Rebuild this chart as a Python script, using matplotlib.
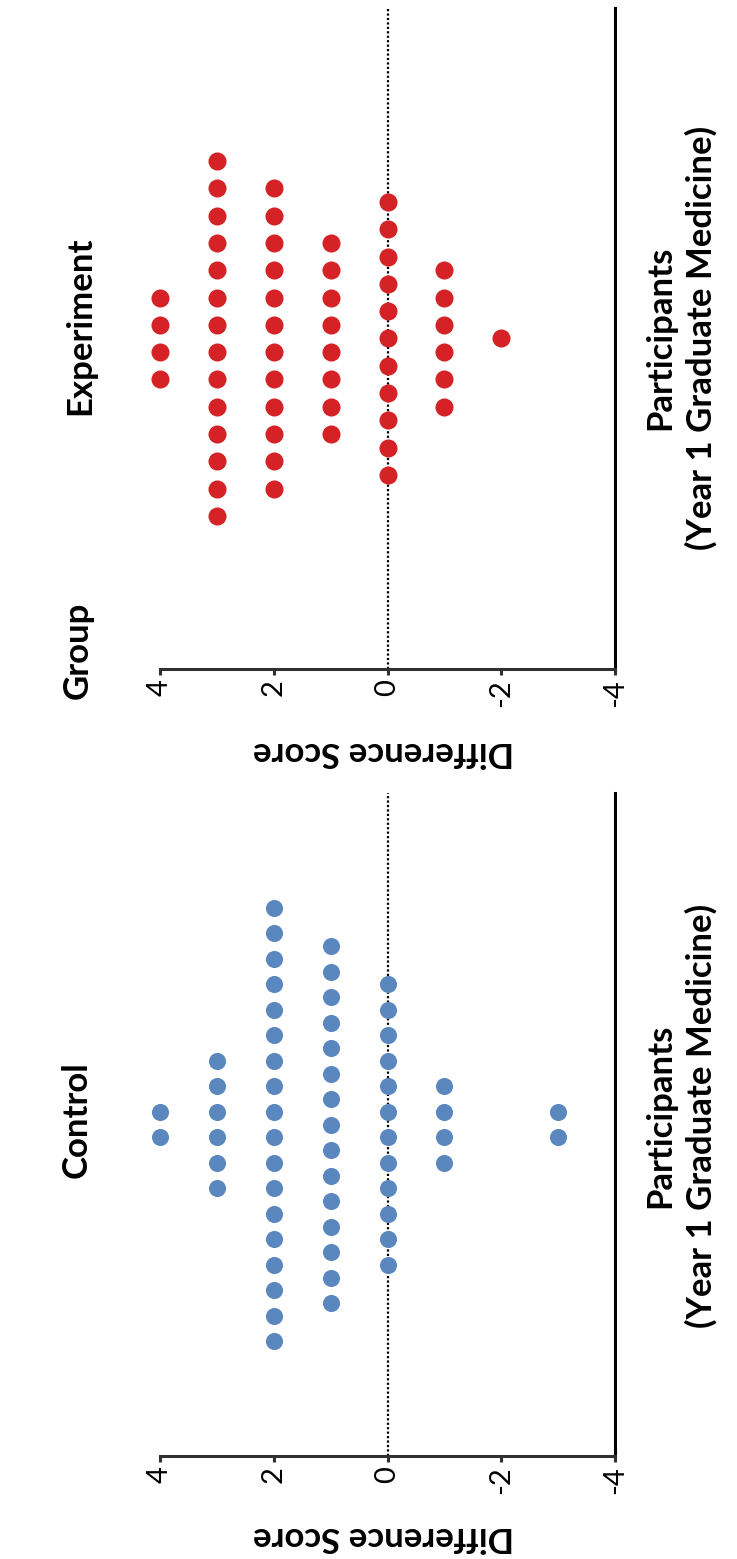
import numpy as np
import matplotlib
matplotlib.use("Agg")
import matplotlib.pyplot as plt

plt.rcParams['font.family'] = ['Lato', 'DejaVu Sans']

# Difference scores and how many participants got each one
scores = [4, 3, 2, 1, 0, -1, -2, -3]
control_counts = [2, 6, 18, 15, 12, 4, 0, 2]
experiment_counts = [4, 14, 12, 8, 11, 6, 1, 0]

group_names = ["Control", "Experiment"]
tick_values = [4, 2, 0, -2, -4]
value_label = "Difference Score"
participants_label = "Participants\n(Year 1 Graduate Medicine)"

blue = "#5b87bf"
red = "#d42226"


def swarm(counts):
    """ Expand counts to (score, offset) pairs, centred column per score """
    xs, ys = [], []
    for s, n in zip(scores, counts):
        for i in range(n):
            xs.append(s)
            ys.append(i - (n - 1) / 2.0)
    return np.array(xs), np.array(ys)


W, H = 737, 1559
fig = plt.figure(figsize=(W / 100, H / 100), dpi=100)


def px(x, y):
    return x / W, 1 - y / H


def panel(top_px, bottom_px, counts, color, half, ms):
    left, bottom = px(160, bottom_px)
    ax = fig.add_axes([left, bottom, 455 / W, (bottom_px - top_px) / H])
    xs, ys = swarm(counts)
    ax.axvline(0, color="black", ls=(0, (1, 1)), lw=1.6, zorder=1)
    ax.plot(xs, ys, "o", color=color, ms=ms, mec="none", zorder=3,
            clip_on=False)
    ax.set_xlim(4, -4)
    ax.set_ylim(-half, half)
    ax.set_xticks(tick_values)
    ax.set_xticklabels([str(v) for v in tick_values], rotation=90,
                       fontsize=21)
    ax.set_yticks([])
    for s in ("top", "left"):
        ax.spines[s].set_visible(False)
    ax.spines["bottom"].set_linewidth(2.2)
    ax.spines["bottom"].set_color("#303030")
    ax.spines["right"].set_linewidth(2.2)
    ax.spines["right"].set_color("black")
    ax.tick_params(axis="x", direction="out", length=4.5, width=2.2,
                   color="#303030", pad=3)
    return ax


# Experiment on top, Control below (figure is turned on its side)
panel(8, 669, experiment_counts, red, 12.1, 13)
panel(793, 1456, control_counts, blue, 13.0, 12.3)

title_kw = dict(rotation=90, ha="center", va="center", fontsize=25,
                fontweight="bold")
fig.text(*px(80, 326), group_names[1], **title_kw)
fig.text(*px(77, 1120), group_names[0], **title_kw)
fig.text(*px(78, 650), "Group", **title_kw)

for y in (752, 1537):
    fig.text(*px(383, y), value_label, rotation=180, ha="center",
             va="center", fontsize=25, fontweight="bold")

for y in (338, 1116):
    fig.text(*px(681, y), participants_label, rotation=90, ha="center",
             va="center", fontsize=25, fontweight="bold", linespacing=1.3,
             multialignment="center")

fig.savefig("out.png", dpi=100)
